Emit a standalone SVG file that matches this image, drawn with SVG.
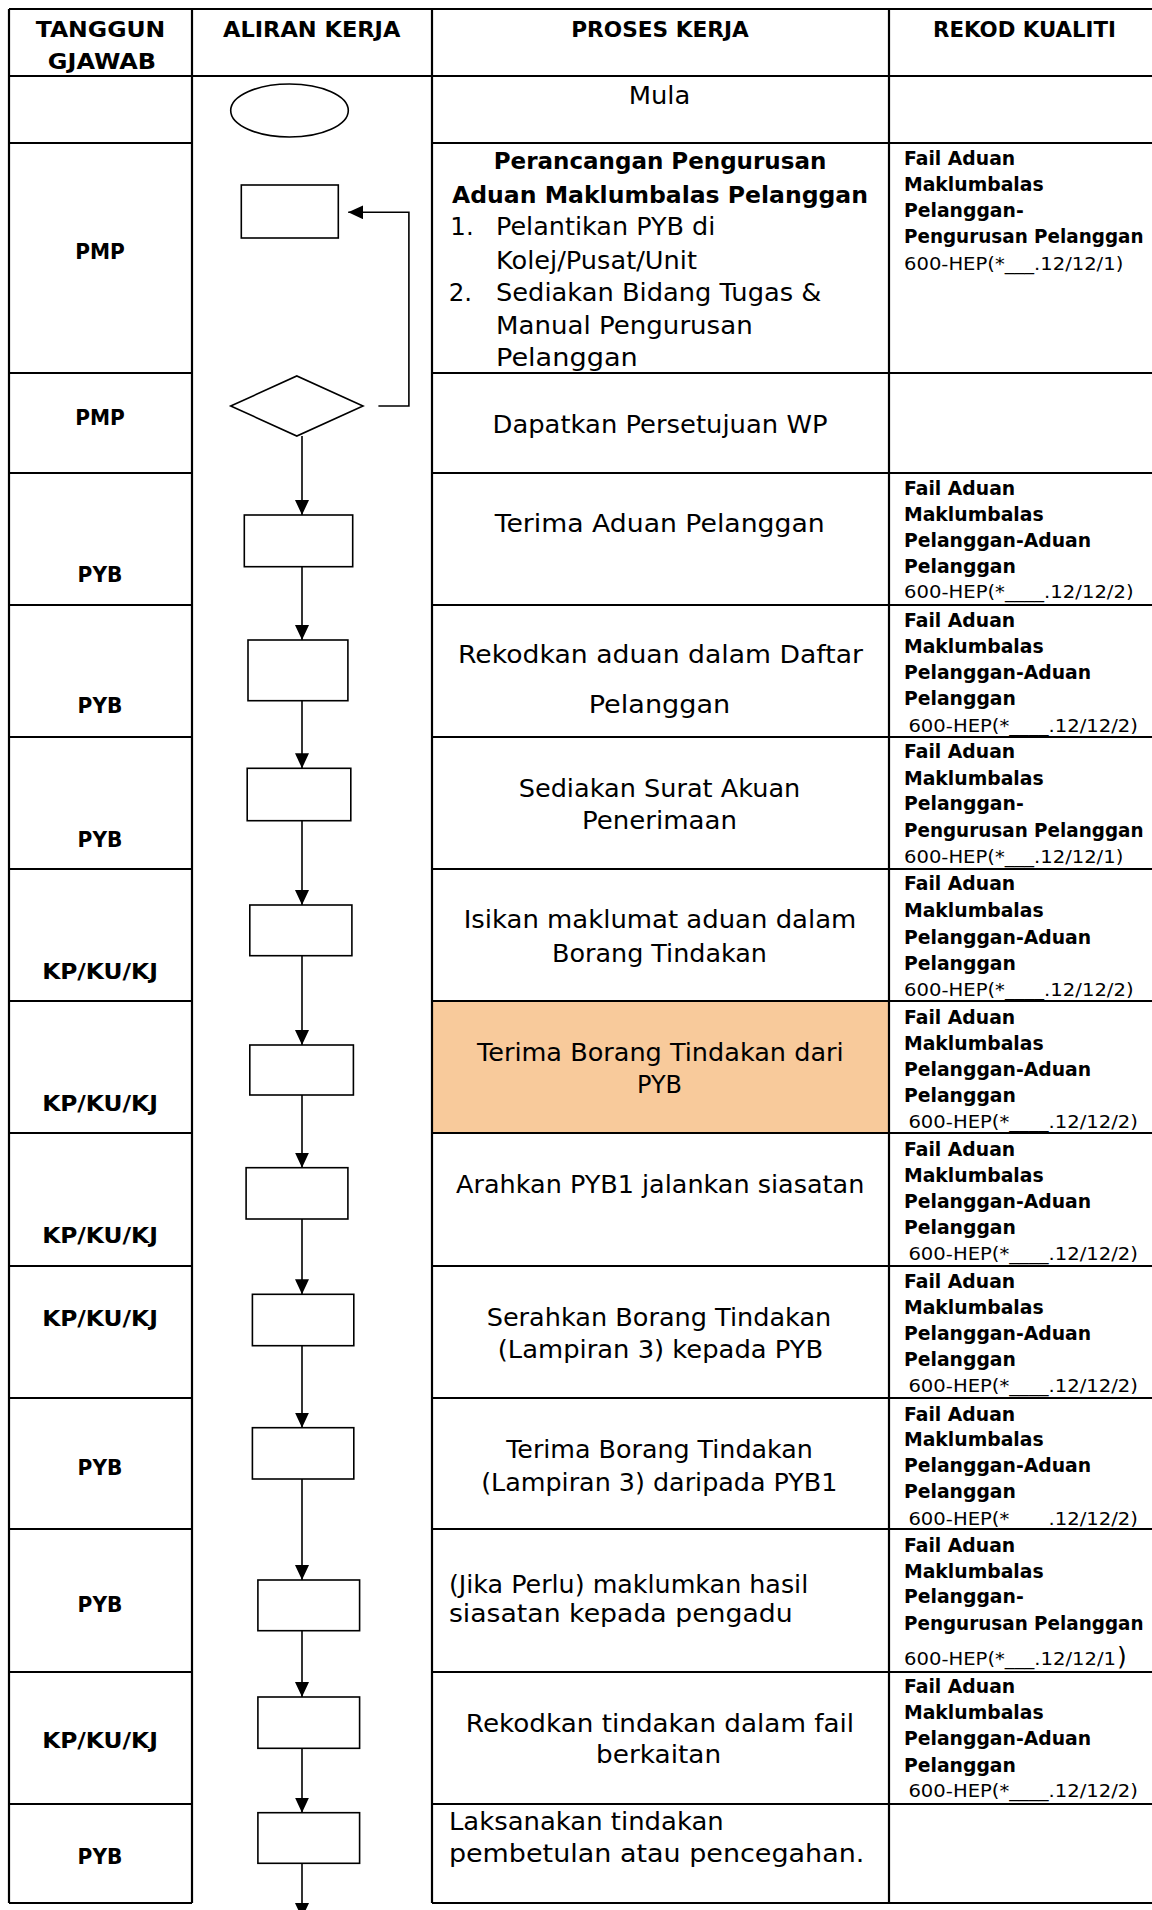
<svg xmlns="http://www.w3.org/2000/svg" width="1152" height="1910" viewBox="0 0 1152 1910">
<style>
.grid{stroke:#000;stroke-width:2.2;fill:none}
.shape{stroke:#000;stroke-width:1.6;fill:#fff}
.conn{stroke:#000;stroke-width:1.6;fill:none}
.hd{font-family:"DejaVu Sans",sans-serif;font-weight:bold;font-size:22px;fill:#000}
.lbl{font-family:"DejaVu Sans",sans-serif;font-weight:bold;font-size:22px;fill:#000;text-anchor:middle}
.pr{font-family:"DejaVu Sans",sans-serif;font-size:24.5px;fill:#000}
.prb{font-family:"DejaVu Sans",sans-serif;font-weight:bold;font-size:23.2px;fill:#000;text-anchor:middle}
.c{text-anchor:middle}
.rk{font-family:"DejaVu Sans",sans-serif;font-weight:bold;font-size:18.8px;fill:#000}
.rn{font-family:"DejaVu Sans",sans-serif;font-size:18px;fill:#000}
</style>
<defs>
<marker id="ah" markerUnits="userSpaceOnUse" markerWidth="15" markerHeight="14" refX="15" refY="7" orient="auto">
<path d="M0,0 L15,7 L0,14 z" fill="#000"/>
</marker>
</defs>
<rect width="1152" height="1910" fill="#fff"/>
<rect x="433" y="1001" width="456" height="132" fill="#F8CA9B"/>
<g id="table">
<path class="grid" d="M9,9 H1152 M9,76 H1152 M9,9 V1903 M192,9 V1903 M432,9 V1903 M889,9 V1903"/>
<path class="grid" d="M9,143 H192 M432,143 H1152 M9,373 H192 M432,373 H1152 M9,473 H192 M432,473 H1152 M9,605 H192 M432,605 H1152 M9,737 H192 M432,737 H1152 M9,869 H192 M432,869 H1152 M9,1001 H192 M432,1001 H1152 M9,1133 H192 M432,1133 H1152 M9,1266 H192 M432,1266 H1152 M9,1398 H192 M432,1398 H1152 M9,1529 H192 M432,1529 H1152 M9,1672 H192 M432,1672 H1152 M9,1804 H192 M432,1804 H1152 M9,1903 H192 M432,1903 H1152"/>
</g>
<g id="header">
<text class="hd c" x="100.5" y="36.7" textLength="129.7" lengthAdjust="spacingAndGlyphs">TANGGUN</text>
<text class="hd c" x="102" y="69.3" textLength="108.3" lengthAdjust="spacingAndGlyphs">GJAWAB</text>
<text class="hd c" x="311.7" y="36.7" textLength="177.4" lengthAdjust="spacingAndGlyphs">ALIRAN KERJA</text>
<text class="hd c" x="660" y="36.7" textLength="177.6" lengthAdjust="spacingAndGlyphs">PROSES KERJA</text>
<text class="hd c" x="1024.5" y="36.7" textLength="183" lengthAdjust="spacingAndGlyphs">REKOD KUALITI</text>
</g>
<g id="labels">
<text class="lbl" x="100" y="259" textLength="49.6" lengthAdjust="spacingAndGlyphs">PMP</text>
<text class="lbl" x="100" y="425" textLength="49.6" lengthAdjust="spacingAndGlyphs">PMP</text>
<text class="lbl" x="100" y="581.7" textLength="44.8" lengthAdjust="spacingAndGlyphs">PYB</text>
<text class="lbl" x="100" y="713.3" textLength="44.8" lengthAdjust="spacingAndGlyphs">PYB</text>
<text class="lbl" x="100" y="846.7" textLength="44.8" lengthAdjust="spacingAndGlyphs">PYB</text>
<text class="lbl" x="100" y="979.3" textLength="115.7" lengthAdjust="spacingAndGlyphs">KP/KU/KJ</text>
<text class="lbl" x="100" y="1111" textLength="115.7" lengthAdjust="spacingAndGlyphs">KP/KU/KJ</text>
<text class="lbl" x="100" y="1242.7" textLength="115.7" lengthAdjust="spacingAndGlyphs">KP/KU/KJ</text>
<text class="lbl" x="100" y="1325.7" textLength="115.7" lengthAdjust="spacingAndGlyphs">KP/KU/KJ</text>
<text class="lbl" x="100" y="1475" textLength="44.8" lengthAdjust="spacingAndGlyphs">PYB</text>
<text class="lbl" x="100" y="1611.7" textLength="44.8" lengthAdjust="spacingAndGlyphs">PYB</text>
<text class="lbl" x="100" y="1748.3" textLength="115.7" lengthAdjust="spacingAndGlyphs">KP/KU/KJ</text>
<text class="lbl" x="100" y="1864.3" textLength="44.8" lengthAdjust="spacingAndGlyphs">PYB</text>
</g>
<g id="connectors">
<polyline class="conn" points="378.4,406 408.9,406 408.9,212.3 348.2,212.3" marker-end="url(#ah)"/>
<line class="conn" x1="302" y1="436" x2="302" y2="515" marker-end="url(#ah)"/>
<line class="conn" x1="302" y1="566.7" x2="302" y2="640" marker-end="url(#ah)"/>
<line class="conn" x1="302" y1="700.7" x2="302" y2="768.3" marker-end="url(#ah)"/>
<line class="conn" x1="302" y1="820.7" x2="302" y2="905" marker-end="url(#ah)"/>
<line class="conn" x1="302" y1="955.7" x2="302" y2="1045" marker-end="url(#ah)"/>
<line class="conn" x1="302" y1="1095" x2="302" y2="1167.7" marker-end="url(#ah)"/>
<line class="conn" x1="302" y1="1219" x2="302" y2="1294.3" marker-end="url(#ah)"/>
<line class="conn" x1="302" y1="1345.7" x2="302" y2="1427.7" marker-end="url(#ah)"/>
<line class="conn" x1="302" y1="1479" x2="302" y2="1580" marker-end="url(#ah)"/>
<line class="conn" x1="302" y1="1630.7" x2="302" y2="1697" marker-end="url(#ah)"/>
<line class="conn" x1="302" y1="1748.3" x2="302" y2="1812.7" marker-end="url(#ah)"/>
<line class="conn" x1="302" y1="1863.3" x2="302" y2="1918" marker-end="url(#ah)"/>
</g>
<g id="n-start"><ellipse class="shape" cx="289.5" cy="110.5" rx="58.8" ry="26.5"/><text class="pr c" x="659.5" y="104.3" textLength="61.6" lengthAdjust="spacingAndGlyphs">Mula</text></g>
<g id="n-plan">
<rect class="shape" x="241.3" y="185" width="97" height="53"/>
<text class="prb" x="660" y="169.3" textLength="332.6" lengthAdjust="spacingAndGlyphs">Perancangan Pengurusan</text>
<text class="prb" x="660" y="202.7" textLength="416" lengthAdjust="spacingAndGlyphs">Aduan Maklumbalas Pelanggan</text>
<text class="pr" x="450.3" y="235.3">1.</text>
<text class="pr" x="496" y="235.3" textLength="219.3" lengthAdjust="spacingAndGlyphs">Pelantikan PYB di</text>
<text class="pr" x="496" y="268.7" textLength="201" lengthAdjust="spacingAndGlyphs">Kolej/Pusat/Unit</text>
<text class="pr" x="448.7" y="301">2.</text>
<text class="pr" x="496" y="301" textLength="325.3" lengthAdjust="spacingAndGlyphs">Sediakan Bidang Tugas &amp;</text>
<text class="pr" x="496" y="333.7" textLength="256.7" lengthAdjust="spacingAndGlyphs">Manual Pengurusan</text>
<text class="pr" x="496" y="366" textLength="141.7" lengthAdjust="spacingAndGlyphs">Pelanggan</text>
<text class="rk" x="904" y="165">Fail Aduan</text>
<text class="rk" x="904" y="191">Maklumbalas</text>
<text class="rk" x="904" y="217.3">Pelanggan-</text>
<text class="rk" x="904" y="242.7" textLength="239.5" lengthAdjust="spacingAndGlyphs">Pengurusan Pelanggan</text>
<text class="rn" x="904" y="270" textLength="219.3" lengthAdjust="spacingAndGlyphs">600-HEP(*___.12/12/1)</text>
</g>
<g id="n-approve">
<polygon class="shape" points="230.7,406 296.8,376 363,406 296.8,436"/>
<text class="pr c" x="660" y="433.3" textLength="335" lengthAdjust="spacingAndGlyphs">Dapatkan Persetujuan WP</text>
</g>
<g id="n-terima">
<rect class="shape" x="244.3" y="515" width="108.4" height="51.7"/>
<text class="pr c" x="659.7" y="532.3" textLength="330" lengthAdjust="spacingAndGlyphs">Terima Aduan Pelanggan</text>
<text class="rk" x="904" y="495">Fail Aduan</text>
<text class="rk" x="904" y="521">Maklumbalas</text>
<text class="rk" x="904" y="547.3">Pelanggan-Aduan</text>
<text class="rk" x="904" y="573.3">Pelanggan</text>
<text class="rn" x="904" y="598.3" textLength="229.6" lengthAdjust="spacingAndGlyphs">600-HEP(*____.12/12/2)</text>
</g>
<g id="n-rekod">
<rect class="shape" x="248" y="640" width="99.9" height="60.7"/>
<text class="pr c" x="660.5" y="663.3" textLength="405" lengthAdjust="spacingAndGlyphs">Rekodkan aduan dalam Daftar</text>
<text class="pr c" x="659.5" y="713.3" textLength="141.6" lengthAdjust="spacingAndGlyphs">Pelanggan</text>
<text class="rk" x="904" y="626.7">Fail Aduan</text>
<text class="rk" x="904" y="652.7">Maklumbalas</text>
<text class="rk" x="904" y="679">Pelanggan-Aduan</text>
<text class="rk" x="904" y="705">Pelanggan</text>
<text class="rn" x="908.4" y="731.7" textLength="229.6" lengthAdjust="spacingAndGlyphs">600-HEP(*____.12/12/2)</text>
</g>
<g id="n-surat">
<rect class="shape" x="247.2" y="768.3" width="103.6" height="52.4"/>
<text class="pr c" x="659.5" y="796.7" textLength="281.6" lengthAdjust="spacingAndGlyphs">Sediakan Surat Akuan</text>
<text class="pr c" x="659.5" y="829.3" textLength="155" lengthAdjust="spacingAndGlyphs">Penerimaan</text>
<text class="rk" x="904" y="758.3">Fail Aduan</text>
<text class="rk" x="904" y="785">Maklumbalas</text>
<text class="rk" x="904" y="810">Pelanggan-</text>
<text class="rk" x="904" y="836.7" textLength="239.5" lengthAdjust="spacingAndGlyphs">Pengurusan Pelanggan</text>
<text class="rn" x="904" y="863.3" textLength="219.3" lengthAdjust="spacingAndGlyphs">600-HEP(*___.12/12/1)</text>
</g>
<g id="n-isikan">
<rect class="shape" x="249.8" y="905" width="102.1" height="50.7"/>
<text class="pr c" x="660" y="928.3" textLength="392.6" lengthAdjust="spacingAndGlyphs">Isikan maklumat aduan dalam</text>
<text class="pr c" x="659.5" y="961.7" textLength="215" lengthAdjust="spacingAndGlyphs">Borang Tindakan</text>
<text class="rk" x="904" y="890">Fail Aduan</text>
<text class="rk" x="904" y="916.7">Maklumbalas</text>
<text class="rk" x="904" y="944">Pelanggan-Aduan</text>
<text class="rk" x="904" y="970">Pelanggan</text>
<text class="rn" x="904" y="996" textLength="229.6" lengthAdjust="spacingAndGlyphs">600-HEP(*____.12/12/2)</text>
</g>
<g id="n-terima-borang">
<rect class="shape" x="249.8" y="1045" width="103.6" height="50"/>
<text class="pr c" x="660.3" y="1061" textLength="366.7" lengthAdjust="spacingAndGlyphs">Terima Borang Tindakan dari</text>
<text class="pr c" x="659.5" y="1093.3" textLength="45" lengthAdjust="spacingAndGlyphs">PYB</text>
<text class="rk" x="904" y="1024">Fail Aduan</text>
<text class="rk" x="904" y="1050">Maklumbalas</text>
<text class="rk" x="904" y="1076">Pelanggan-Aduan</text>
<text class="rk" x="904" y="1101.7">Pelanggan</text>
<text class="rn" x="908.4" y="1128.3" textLength="229.6" lengthAdjust="spacingAndGlyphs">600-HEP(*____.12/12/2)</text>
</g>
<g id="n-arahkan">
<rect class="shape" x="246.1" y="1167.7" width="101.8" height="51.3"/>
<text class="pr c" x="660.2" y="1193.3" textLength="408.3" lengthAdjust="spacingAndGlyphs">Arahkan PYB1 jalankan siasatan</text>
<text class="rk" x="904" y="1156">Fail Aduan</text>
<text class="rk" x="904" y="1181.7">Maklumbalas</text>
<text class="rk" x="904" y="1207.7">Pelanggan-Aduan</text>
<text class="rk" x="904" y="1234">Pelanggan</text>
<text class="rn" x="908.4" y="1260" textLength="229.6" lengthAdjust="spacingAndGlyphs">600-HEP(*____.12/12/2)</text>
</g>
<g id="n-serahkan">
<rect class="shape" x="252.4" y="1294.3" width="101.4" height="51.4"/>
<text class="pr c" x="659" y="1326" textLength="344.6" lengthAdjust="spacingAndGlyphs">Serahkan Borang Tindakan</text>
<text class="pr c" x="660.5" y="1358.3" textLength="325.5" lengthAdjust="spacingAndGlyphs">(Lampiran 3) kepada PYB</text>
<text class="rk" x="904" y="1288.3">Fail Aduan</text>
<text class="rk" x="904" y="1314.3">Maklumbalas</text>
<text class="rk" x="904" y="1340">Pelanggan-Aduan</text>
<text class="rk" x="904" y="1365.7">Pelanggan</text>
<text class="rn" x="908.4" y="1391.7" textLength="229.6" lengthAdjust="spacingAndGlyphs">600-HEP(*____.12/12/2)</text>
</g>
<g id="n-terima-lampiran">
<rect class="shape" x="252.4" y="1427.7" width="101.4" height="51.3"/>
<text class="pr c" x="659.5" y="1458.3" textLength="306.7" lengthAdjust="spacingAndGlyphs">Terima Borang Tindakan</text>
<text class="pr c" x="659.3" y="1490.7" textLength="356.3" lengthAdjust="spacingAndGlyphs">(Lampiran 3) daripada PYB1</text>
<text class="rk" x="904" y="1420.7">Fail Aduan</text>
<text class="rk" x="904" y="1445.7">Maklumbalas</text>
<text class="rk" x="904" y="1471.7">Pelanggan-Aduan</text>
<text class="rk" x="904" y="1498.3">Pelanggan</text>
<text class="rn" x="908.4" y="1525" textLength="229.6" lengthAdjust="spacingAndGlyphs">600-HEP(*____.12/12/2)</text>
</g>
<g id="n-maklumkan">
<rect class="shape" x="257.9" y="1580" width="101.7" height="50.7"/>
<text class="pr" x="448.9" y="1592.7" textLength="359.3" lengthAdjust="spacingAndGlyphs">(Jika Perlu) maklumkan hasil</text>
<text class="pr" x="448.9" y="1621.7" textLength="343.8" lengthAdjust="spacingAndGlyphs">siasatan kepada pengadu</text>
<text class="rk" x="904" y="1551.7">Fail Aduan</text>
<text class="rk" x="904" y="1578.3">Maklumbalas</text>
<text class="rk" x="904" y="1603.3">Pelanggan-</text>
<text class="rk" x="904" y="1630" textLength="239.5" lengthAdjust="spacingAndGlyphs">Pengurusan Pelanggan</text>
<text class="rn" x="904" y="1665"><tspan textLength="212" lengthAdjust="spacingAndGlyphs">600-HEP(*___.12/12/1</tspan><tspan x="1117" font-size="25">)</tspan></text>
</g>
<g id="n-rekod-tindakan">
<rect class="shape" x="257.9" y="1697" width="101.7" height="51.3"/>
<text class="pr c" x="660" y="1731.7" textLength="388.3" lengthAdjust="spacingAndGlyphs">Rekodkan tindakan dalam fail</text>
<text class="pr c" x="658.6" y="1763.3" textLength="125" lengthAdjust="spacingAndGlyphs">berkaitan</text>
<text class="rk" x="904" y="1693.3">Fail Aduan</text>
<text class="rk" x="904" y="1719.3">Maklumbalas</text>
<text class="rk" x="904" y="1745">Pelanggan-Aduan</text>
<text class="rk" x="904" y="1771.7">Pelanggan</text>
<text class="rn" x="908.4" y="1797.3" textLength="229.6" lengthAdjust="spacingAndGlyphs">600-HEP(*____.12/12/2)</text>
</g>
<g id="n-laksanakan">
<rect class="shape" x="257.9" y="1812.7" width="101.7" height="50.6"/>
<text class="pr" x="448.9" y="1830" textLength="274.8" lengthAdjust="spacingAndGlyphs">Laksanakan tindakan</text>
<text class="pr" x="448.9" y="1861.7" textLength="415.5" lengthAdjust="spacingAndGlyphs">pembetulan atau pencegahan.</text>
</g>
</svg>
